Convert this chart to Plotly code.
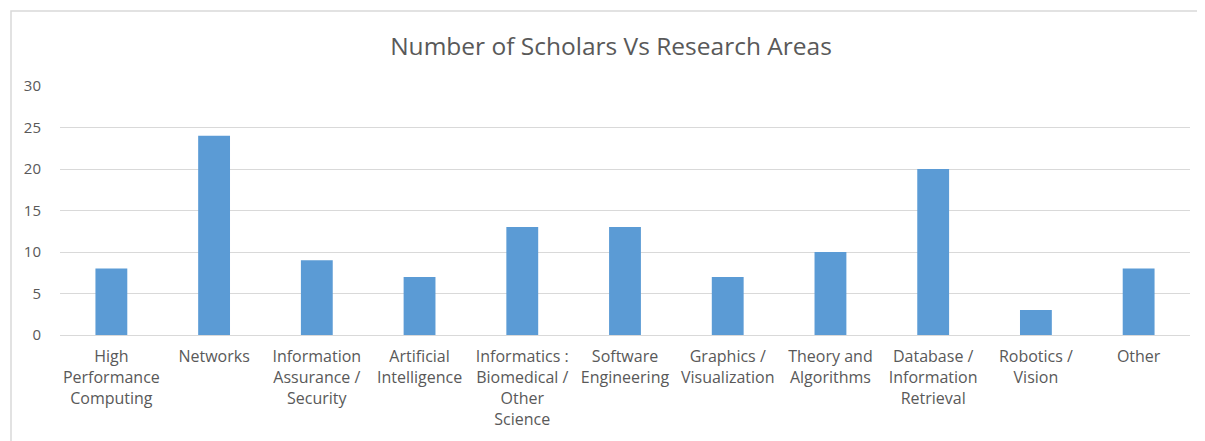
import plotly.graph_objects as go

categories = ["High<br>Performance<br>Computing", "Networks", "Information<br>Assurance /<br>Security",
              "Artificial<br>Intelligence", "Informatics :<br>Biomedical /<br>Other<br>Science",
              "Software<br>Engineering", "Graphics /<br>Visualization", "Theory and<br>Algorithms",
              "Database /<br>Information<br>Retrieval", "Robotics /<br>Vision", "Other"]
values = [8, 24, 9, 7, 13, 13, 7, 10, 20, 3, 8]
y_ticks = [0, 5, 10, 15, 20, 25, 30]

OFF = 8  # page body margin
W, H = 1205 - OFF, 441 - OFF
# absolute page coordinates of the plot area
PL, PR, PT, PB = 60, 1190, 86, 335
L, T = PL - OFF, PT - OFF
R = OFF + W - PR
B = OFF + H - PB
pw, ph = PR - PL, PB - PT

fig = go.Figure(go.Bar(x=categories, y=values, marker=dict(color="#5B9BD5", line=dict(width=0)),
                       width=0.31))

fig.update_layout(
    width=W, height=H,
    margin=dict(l=L, r=R, t=T, b=B),
    paper_bgcolor="white", plot_bgcolor="white",
    font=dict(family="Open Sans, sans-serif", color="#595959", size=16),
    title=dict(text="Number of Scholars Vs Research Areas", x=(611 - OFF) / W, xanchor="center",
               y=1 - (46 - OFF) / H, yanchor="middle", font=dict(size=24.5, color="#595959")),
    showlegend=False,
    xaxis=dict(showgrid=False, showline=False, ticks="outside", ticklen=7, tickcolor="white",
               tickfont=dict(size=16), tickangle=0),
    yaxis=dict(range=[0, 30], tickvals=y_ticks, showgrid=True, gridcolor="#D9D9D9", gridwidth=1,
               zeroline=True, zerolinecolor="#D9D9D9", zerolinewidth=1, showline=False,
               ticks="outside", ticklen=15, tickcolor="white", tickfont=dict(size=15)),
)

fig.add_shape(type="rect", xref="paper", yref="paper",
              x0=(11 - PL) / pw, x1=(1215 - PL) / pw,
              y0=(PB - 450) / ph, y1=(PB - 11) / ph,
              line=dict(color="#D9D9D9", width=1.5), fillcolor="rgba(0,0,0,0)", layer="below")

fig.write_html("out.html")
